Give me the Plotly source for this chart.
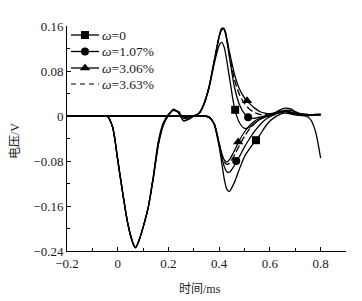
import plotly.graph_objects as go

# ---------------- data ----------------
series_names = ["<i>ω</i>=0", "<i>ω</i>=1.07%", "<i>ω</i>=3.06%", "<i>ω</i>=3.63%"]

# first wave family (large negative pulse, then positive peak)
t_a = [-0.2, -0.06, -0.04, -0.02, 0.0, 0.02, 0.04, 0.06, 0.07, 0.08, 0.10, 0.12, 0.14, 0.16, 0.18,
       0.20, 0.22, 0.24, 0.26, 0.28, 0.30, 0.32, 0.34, 0.36, 0.38, 0.40, 0.41, 0.42, 0.44,
       0.46, 0.48, 0.50, 0.52, 0.54, 0.56, 0.58, 0.60, 0.62, 0.64, 0.66, 0.68, 0.70, 0.72,
       0.74, 0.76, 0.78, 0.80]
a_w0 = [0, 0, -0.001, -0.02, -0.078, -0.138, -0.192, -0.226, -0.234, -0.226, -0.198, -0.163, -0.11, -0.05, -0.015,
        0.002, 0.011, 0.006, -0.008, -0.005, 0.0, 0.004, 0.02, 0.05, 0.092, 0.126, 0.131, 0.122, 0.07,
        0.015, -0.012, -0.022, -0.02, -0.013, -0.006, -0.002, 0.001, 0.004, 0.007, 0.008, 0.006, 0.004, 0.002,
        0.002, 0.001, 0.002, 0.003]
a_w1 = [0, 0, -0.001, -0.02, -0.078, -0.138, -0.192, -0.226, -0.234, -0.226, -0.198, -0.163, -0.108, -0.045, -0.012,
        0.003, 0.010, 0.007, -0.004, -0.003, 0.0, 0.005, 0.022, 0.052, 0.097, 0.142, 0.155, 0.153, 0.105,
        0.052, 0.02, 0.004, -0.003, -0.004, -0.002, 0.0, 0.002, 0.005, 0.008, 0.01, 0.01, 0.007, 0.004,
        0.003, 0.002, 0.003, 0.003]
a_w2 = [0, 0, -0.001, -0.02, -0.078, -0.138, -0.192, -0.226, -0.234, -0.226, -0.198, -0.163, -0.112, -0.052, -0.016,
        0.001, 0.012, 0.005, -0.009, -0.006, 0.0, 0.005, 0.022, 0.052, 0.097, 0.142, 0.156, 0.155, 0.115,
        0.075, 0.048, 0.032, 0.022, 0.014, 0.008, 0.005, 0.004, 0.006, 0.011, 0.014, 0.013, 0.008, 0.004,
        0.003, 0.002, 0.003, 0.003]
a_w3 = [0, 0, -0.001, -0.02, -0.078, -0.138, -0.192, -0.226, -0.234, -0.226, -0.198, -0.163, -0.109, -0.048, -0.013,
        0.002, 0.009, 0.008, -0.002, -0.002, 0.0, 0.004, 0.021, 0.05, 0.095, 0.14, 0.153, 0.154, 0.11,
        0.065, 0.038, 0.022, 0.012, 0.006, 0.003, 0.002, 0.002, 0.004, 0.008, 0.01, 0.008, 0.005, 0.003,
        0.002, 0.002, 0.002, 0.003]

# second wave family (negative trough around 0.43 ms)
t_b = [-0.2, 0.30, 0.34, 0.36, 0.38, 0.40, 0.41, 0.42, 0.43, 0.44, 0.46, 0.48, 0.50, 0.52, 0.54,
       0.56, 0.58, 0.60, 0.62, 0.64, 0.66, 0.68, 0.70, 0.72, 0.74, 0.76, 0.78, 0.80]
b_w0 = [0, 0, 0.0, -0.002, -0.015, -0.055, -0.083, -0.112, -0.13, -0.134, -0.118, -0.094, -0.072, -0.058, -0.046,
        -0.034, -0.02, -0.009, -0.002, 0.003, 0.005, 0.004, 0.002, 0.001, 0.0, -0.006, -0.028, -0.075]
b_w1 = [0, 0, 0.0, -0.002, -0.014, -0.05, -0.072, -0.09, -0.099, -0.1, -0.088, -0.072, -0.055, -0.04, -0.027,
        -0.016, -0.007, -0.001, 0.003, 0.006, 0.008, 0.006, 0.003, 0.002, 0.001, 0.001, 0.002, 0.002]
b_w2 = [0, 0, 0.0, -0.002, -0.013, -0.048, -0.066, -0.078, -0.082, -0.078, -0.062, -0.043, -0.028, -0.017, -0.009,
        -0.004, -0.001, 0.001, 0.004, 0.007, 0.009, 0.007, 0.004, 0.002, 0.001, 0.001, 0.002, 0.002]
b_w3 = [0, 0, 0.0, -0.002, -0.013, -0.05, -0.07, -0.082, -0.086, -0.084, -0.07, -0.052, -0.036, -0.023, -0.013,
        -0.006, -0.002, 0.0, 0.003, 0.006, 0.008, 0.006, 0.004, 0.002, 0.001, 0.001, 0.002, 0.002]

# marker positions read on the curves (upper curve, lower curve)
mark_x = [[0.463, 0.545], [0.514, 0.467], [0.51, 0.475], None]
mark_y = [[0.011, -0.043], [-0.002, -0.08], [0.027, -0.046], None]
symbols = ["square", "circle", "triangle-up", None]

x_ticks = [-0.2, 0, 0.2, 0.4, 0.6, 0.8]
y_ticks = [-0.24, -0.16, -0.08, 0, 0.08, 0.16]
x_title = "时间/ms"
y_title = "电压/V"

# ---------------- figure ----------------
# the page body keeps an 8 px default margin, so the figure is sized to fit
OFF = 8
W, H = 362 - OFF, 301 - OFF
ML, MR, MT, MB = 67 - OFF, 16, 26 - OFF, 50
PW, PH = W - ML - MR, H - MT - MB

fig = go.Figure()
upper = [a_w0, a_w1, a_w2, a_w3]
lower = [b_w0, b_w1, b_w2, b_w3]
LW = 1.3
DASH = "7px,3px"
for i, name in enumerate(series_names):
    dash = DASH if i == 3 else "solid"
    for ys, tt in ((upper[i], t_a), (lower[i], t_b)):
        fig.add_trace(go.Scatter(
            x=tt, y=ys, mode="lines",
            line=dict(color="black", width=LW, dash=dash, shape="spline", smoothing=0.7),
            showlegend=False, name=name, hoverinfo="skip"))
    if symbols[i] is not None:
        fig.add_trace(go.Scatter(
            x=mark_x[i], y=mark_y[i], mode="markers", name=name, showlegend=False,
            marker=dict(symbol=symbols[i], size=8 if symbols[i] != "triangle-up" else 9, color="black"),
            hoverinfo="skip"))

# ---- hand-made legend (compact rows as in the original) ----
# positions below are window pixels of the original picture
def fx(px):
    return (px - OFF - ML) / PW

def fy(py):
    return (H - MB - (py - OFF)) / PH

row_py = [35, 51.5, 68, 84]
line_x0, line_x1, mark_px, text_px = 71, 99, 85, 100
annotations = []
for i, name in enumerate(series_names):
    yy = fy(row_py[i])
    fig.add_trace(go.Scatter(
        x=[fx(line_x0), fx(line_x1)], y=[yy, yy], mode="lines", xaxis="x2", yaxis="y2",
        line=dict(color="black", width=LW if i < 3 else 1.2, dash="solid" if i < 3 else "5px,4px"),
        showlegend=False, hoverinfo="skip"))
    if symbols[i] is not None:
        fig.add_trace(go.Scatter(
            x=[fx(mark_px)], y=[yy], mode="markers", xaxis="x2", yaxis="y2",
            marker=dict(symbol=symbols[i], size=8 if symbols[i] != "triangle-up" else 9, color="black"),
            showlegend=False, hoverinfo="skip"))
    annotations.append(dict(x=fx(text_px), y=yy, xref="x2", yref="y2", text=name, showarrow=False,
                            xanchor="left", yanchor="middle",
                            font=dict(family="Liberation Serif", size=13.5, color="#1a1a1a")))

annotations.append(dict(x=fx(200), y=fy(289), xref="paper", yref="paper", text=x_title,
                        showarrow=False, xanchor="center", yanchor="middle",
                        font=dict(family="Liberation Serif, Noto Sans CJK SC", size=12, color="#1a1a1a")))
annotations.append(dict(x=fx(15), y=fy(141), xref="paper", yref="paper", text=y_title,
                        showarrow=False, xanchor="center", yanchor="middle", textangle=-90,
                        font=dict(family="Liberation Serif, Noto Sans CJK SC", size=12, color="#1a1a1a")))

axis_font = dict(family="Liberation Serif", size=13, color="#1a1a1a")
fig.update_layout(
    width=W, height=H,
    margin=dict(l=ML, r=MR, t=MT, b=MB),
    paper_bgcolor="white", plot_bgcolor="white",
    font=axis_font,
    showlegend=False,
    annotations=annotations,
    xaxis=dict(range=[-0.2, 0.9], tickvals=x_ticks, ticks="inside", ticklen=4, tickcolor="black",
               showline=True, linecolor="black", linewidth=1, showgrid=False, zeroline=False,
               automargin=False, tickfont=axis_font,
               minor=dict(ticks="inside", ticklen=3, dtick=0.1, tick0=0, tickcolor="black")),
    yaxis=dict(range=[-0.24, 0.16], tickvals=y_ticks, ticks="inside", ticklen=4, tickcolor="black",
               showline=True, linecolor="black", linewidth=1, showgrid=False, zeroline=False,
               automargin=False, tickfont=axis_font,
               minor=dict(ticks="inside", ticklen=3, dtick=0.04, tick0=0, tickcolor="black")),
    xaxis2=dict(overlaying="x", range=[0, 1], visible=False, automargin=False),
    yaxis2=dict(overlaying="y", range=[0, 1], visible=False, automargin=False),
)
fig.write_html("out.html")
